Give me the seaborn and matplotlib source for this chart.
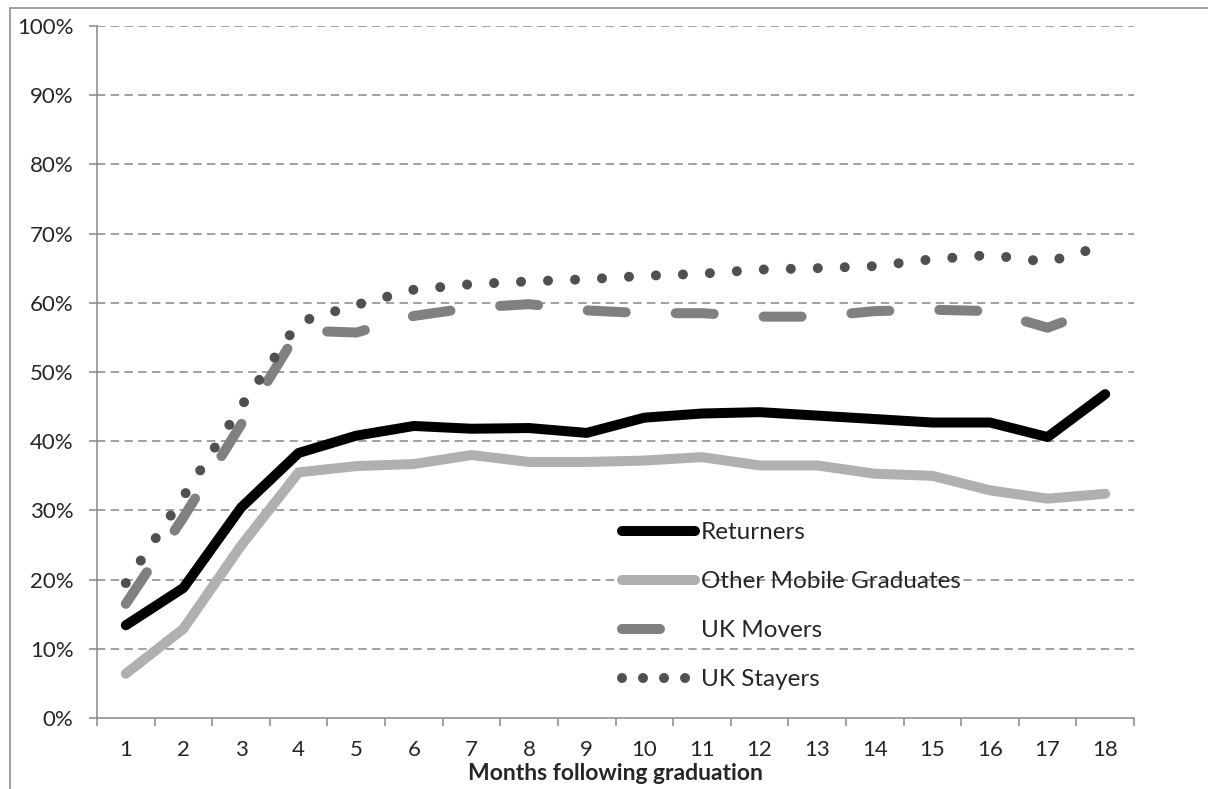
import pandas as pd
import seaborn as sns
import matplotlib.pyplot as plt
from matplotlib.ticker import PercentFormatter, MultipleLocator, FixedLocator
from matplotlib.lines import Line2D

# Values (percent employed)
months = list(range(1, 19))
returners = [13.4, 18.8, 30.4, 38.3, 40.8, 42.2, 41.8, 41.9, 41.2, 43.4, 44.0, 44.2, 43.7, 43.2, 42.7, 42.7, 40.6, 46.8]
other_mobile = [6.4, 12.9, 24.9, 35.5, 36.4, 36.7, 38.0, 37.0, 37.0, 37.2, 37.7, 36.5, 36.5, 35.3, 35.0, 32.9, 31.7, 32.4]
uk_movers = [16.5, 29.0, 42.4, 56.0, 55.7, 58.1, 59.3, 59.8, 58.9, 58.5, 58.5, 58.0, 58.0, 58.8, 59.0, 58.8, 56.4, 59.5]
uk_stayers = [19.5, 32.0, 45.0, 57.2, 59.7, 61.9, 62.7, 63.1, 63.4, 63.9, 64.2, 64.8, 65.0, 65.3, 66.3, 66.9, 65.9, 68.3]

series_names = ['Returners', 'Other Mobile Graduates', 'UK Movers', 'UK Stayers']
series_values = [returners, other_mobile, uk_movers, uk_stayers]

sns.set_style('white')
plt.rcParams['font.family'] = ['Lato', 'DejaVu Sans']

grey = '#878787'
fs_tick = 16
fs_leg = 17.5
lw = 7.2

fig = plt.figure(figsize=(12.08, 7.89), dpi=100)
ax = fig.add_axes([97 / 1208, 1 - 718 / 789, (1134 - 97) / 1208, (718 - 26) / 789])

styles = {
    'Returners': dict(color='#000000', linestyle='-'),
    'Other Mobile Graduates': dict(color='#b0b0b0', linestyle='-'),
    'UK Movers': dict(color='#808080', linestyle=(0, (3.8, 5.0))),
    'UK Stayers': dict(color='#505050', linestyle=(0, (0.001, 2.7))),
}

for name, vals in zip(series_names, series_values):
    df = pd.DataFrame({'month': months, 'value': vals})
    sns.lineplot(data=df, x='month', y='value', ax=ax, label=name,
                 linewidth=lw, dash_capstyle='round', solid_capstyle='round',
                 solid_joinstyle='round', dash_joinstyle='round', **styles[name])

# axes limits / ticks
ax.set_xlim(0.5, 18.5)
ax.set_ylim(0, 100)
ax.yaxis.set_major_locator(MultipleLocator(10))
ax.yaxis.set_major_formatter(PercentFormatter(100, decimals=0))
ax.xaxis.set_major_locator(FixedLocator(months))
ax.xaxis.set_minor_locator(FixedLocator([m + 0.5 for m in range(0, 19)]))

ax.grid(False)
for v in range(10, 101, 10):
    ax.axhline(v, color=grey, linewidth=1.1, linestyle=(0, (5.5, 3.5)), zorder=0)

for side in ['top', 'right']:
    ax.spines[side].set_visible(False)
for side in ['left', 'bottom']:
    ax.spines[side].set_visible(True)
    ax.spines[side].set_color(grey)
    ax.spines[side].set_linewidth(1.1)

ax.tick_params(axis='y', which='major', direction='out', length=6, width=1.1,
               color=grey, labelsize=fs_tick, pad=11, left=True)
ax.tick_params(axis='x', which='major', length=0, labelsize=fs_tick, pad=16)
ax.tick_params(axis='x', which='minor', direction='out', length=6, width=1.1,
               color=grey, bottom=True)

ax.set_xlabel('Months following graduation', fontsize=16.5, fontweight='bold', labelpad=2)
ax.set_ylabel('')

leg = ax.legend(loc='upper left', bbox_to_anchor=(0.497, 0.297), frameon=False,
                fontsize=fs_leg, handlelength=3.0, handletextpad=0.25, labelspacing=1.15,
                borderaxespad=0)
for h in leg.get_lines():
    h.set_linewidth(lw)
# legend dots sit a little closer than the ones on the chart
leg.get_lines()[3].set_linestyle((0, (0.001, 2.1)))

# outer chart-area border
fig.add_artist(Line2D([10 / 1208, 10 / 1208], [0, 1 - 8 / 789], color=grey, linewidth=1.1))
fig.add_artist(Line2D([10 / 1208, 1], [1 - 8 / 789, 1 - 8 / 789], color=grey, linewidth=1.1))

fig.savefig('out.png', dpi=100)
